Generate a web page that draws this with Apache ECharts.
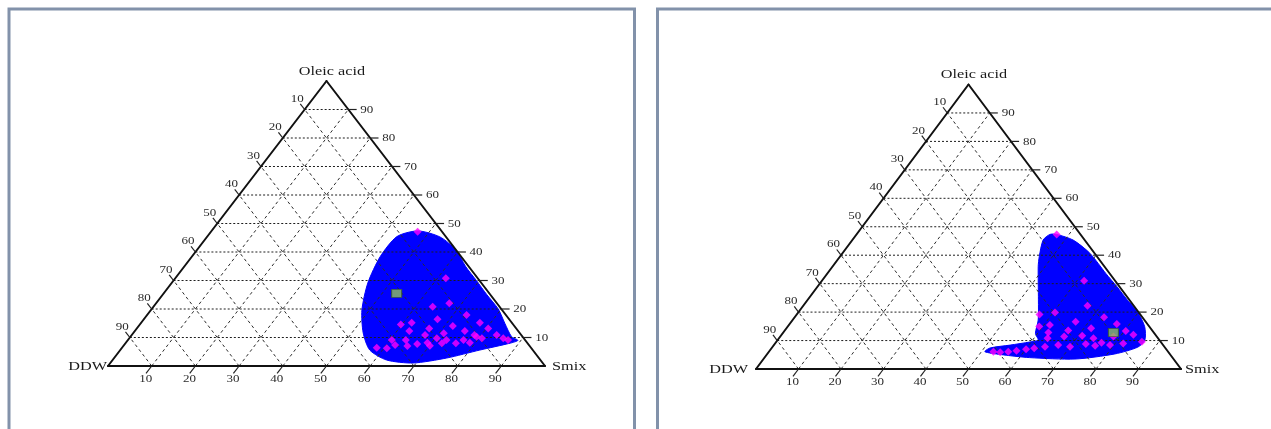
<!DOCTYPE html>
<html><head><meta charset="utf-8">
<script src="https://cdn.jsdelivr.net/npm/echarts@6/dist/echarts.min.js"></script>
<style>html,body{margin:0;padding:0;background:#fff}#c{width:1271px;height:429px}</style>
</head><body><div id="c"></div>
<script>
// ---- axis ticks & vertex labels ----
const TICKS = [10, 20, 30, 40, 50, 60, 70, 80, 90];
const LABEL_TOP = 'Oleic acid', LABEL_LEFT = 'DDW', LABEL_RIGHT = 'Smix';

// ---- left diagram: blue region boundary (Smix %, Oleic %; DDW = rest) ----
const blobL_smix  = [47.2, 53.3, 59.3, 64.3, 69.3, 74.2, 79.3, 83.3, 87.2, 89.3, 88.0, 82.3, 76.1, 69.3, 62.7, 57.1, 52.6, 48.3, 44.9, 43.1, 43.4];
const blobL_oleic = [47.4, 45.3, 40.7, 35.0, 30.0, 25.0, 20.0, 15.0, 10.3, 9.0, 8.0, 5.6, 2.8, 1.05, 2.1, 5.6, 11.6, 19.6, 29.1, 38.4, 45.4];
// left diagram: magenta points
const ptsL_smix  = [47.3,61.9,63.9,67.1,73.1,67.2,59.7,61.9,66.9,71.9,77.5,80.4,62.8,67.1,71.1,75.5,78.4,83.5,85.6,87.0,58.3,60.7,60.4,62.0,63.6,65.0,66.9,69.0,70.1,70.4,72.4,72.9,75.6,76.8,78.7,79.2,80.7];
const ptsL_oleic = [47.1,30.8,20.8,22.0,17.9,16.4,14.6,15.2,13.2,14.0,15.2,13.2,12.3,10.9,11.5,12.3,10.9,10.9,9.7,9.1,6.4,6.2,9.1,7.4,9.1,7.0,7.7,8.2,7.1,9.7,8.0,9.1,8.0,9.1,8.2,10.3,9.7];
const markL = [53.3, 25.5];

// ---- right diagram: blue region boundary ----
const blobR_smix  = [47.1, 52.0, 58.2, 65.5, 70.5, 75.2, 79.8, 84.0, 86.4, 86.0, 81.8, 73.3, 62.4, 54.9, 50.8, 51.4, 55.6, 59.7, 61.3, 59.5, 57.8, 54.3, 48.4, 46.9, 44.9, 45.5];
const blobR_oleic = [47.3, 45.3, 40.7, 33.6, 28.9, 24.3, 20.0, 14.9, 10.2, 7.7, 5.3, 3.5, 4.0, 5.1, 6.1, 7.4, 8.4, 9.5, 10.2, 12.5, 17.2, 24.3, 36.0, 39.5, 45.3, 47.3];
// right diagram: magenta points
const ptsR_smix  = [47.1,61.7,60.4,66.9,72.8,57.1,66.9,61.4,59.2,71.7,77.0,66.7,62.4,80.3,70.9,66.8,63.2,74.0,78.4,82.8,86.0,76.7,73.2,66.9,64.1,70.0,75.7,79.1,81.9,61.8,60.1,58.1,56.3,54.5,52.8];
const ptsR_oleic = [47.3,31.0,19.9,22.2,18.2,19.2,16.6,15.5,14.9,14.3,15.8,13.5,12.8,13.4,11.7,11.4,10.8,10.8,11.4,12.0,9.6,9.2,8.8,8.4,7.8,7.8,8.2,8.4,9.0,7.3,6.9,6.4,6.1,5.9,6.1];
const markR = [77.7, 12.8];

// ternary (Smix, Oleic) -> cartesian value space of the hidden axes
const tern = (s, o) => [s + o / 2, o];

const SERIF = '"Liberation Serif","DejaVu Serif",serif';
const SX = 1.3; // horizontal stretch of the original picture

const panels = [
  { grid: { left: 108, top: 81, width: 437, height: 285 }, bs: blobL_smix, bo: blobL_oleic, ps: ptsL_smix, po: ptsL_oleic, mark: markL, ddwGap: 1, smixGap: 7 },
  { grid: { left: 756, top: 84.5, width: 425, height: 284.5 }, bs: blobR_smix, bo: blobR_oleic, ps: ptsR_smix, po: ptsR_oleic, mark: markR, ddwGap: 8, smixGap: 4 }
];

const grids = [], xAxes = [], yAxes = [], series = [];

panels.forEach((P, i) => {
  grids.push(Object.assign({ containLabel: false }, P.grid));
  xAxes.push({ type: 'value', gridIndex: i, min: 0, max: 100, show: false });
  yAxes.push({ type: 'value', gridIndex: i, min: 0, max: 100, show: false });
  const ax = { xAxisIndex: i, yAxisIndex: i };

  // blue region
  series.push(Object.assign({
    type: 'custom', z: 1, silent: true,
    data: P.bs.map((s, k) => tern(s, P.bo[k])),
    renderItem: (params, api) => {
      if (params.dataIndex !== 0) return null;
      const pts = P.bs.map((s, k) => api.coord(tern(s, P.bo[k])));
      return { type: 'polygon', shape: { points: pts, smooth: 0.25 }, style: { fill: '#0000ff', stroke: '#0000ff', lineWidth: 1 } };
    }
  }, ax));

  // grid lines: kind 0 horizontal (const Oleic), 1 const Smix, 2 const DDW
  const gl = [];
  TICKS.forEach(t => {
    gl.push([0, t, 100 - t, t, 0]);
    gl.push([t, 0, t, 100 - t, 1]);
    gl.push([100 - t, 0, 0, 100 - t, 2]);
  });
  series.push(Object.assign({
    type: 'custom', z: 2, silent: true, data: gl,
    renderItem: (params, api) => {
      const a = api.coord(tern(api.value(0), api.value(1)));
      const b = api.coord(tern(api.value(2), api.value(3)));
      const k = api.value(4);
      return { type: 'line', shape: { x1: a[0], y1: a[1], x2: b[0], y2: b[1] },
        style: { stroke: k === 0 ? '#1e1e1e' : '#2c2c2c', lineWidth: 1, lineDash: k === 0 ? [2, 2] : [3, 3] } };
    }
  }, ax));

  // triangle edges
  series.push(Object.assign({
    type: 'custom', z: 3, silent: true,
    data: [[0, 0, 100, 0], [100, 0, 0, 100], [0, 100, 0, 0]],
    renderItem: (params, api) => {
      const a = api.coord(tern(api.value(0), api.value(1)));
      const b = api.coord(tern(api.value(2), api.value(3)));
      return { type: 'line', shape: { x1: a[0], y1: a[1], x2: b[0], y2: b[1] }, style: { stroke: '#111', lineWidth: 2, lineCap: 'round' } };
    }
  }, ax));

  // ticks and tick labels: axis 0 bottom (Smix), 1 right (Oleic), 2 left (DDW)
  const tk = [];
  TICKS.forEach(t => { tk.push([0, t]); tk.push([1, t]); tk.push([2, t]); });
  series.push(Object.assign({
    type: 'custom', z: 3, silent: true, data: tk,
    renderItem: (params, api) => {
      const axis = api.value(0), t = api.value(1);
      let a, b, lx, ly, align;
      if (axis === 0) {
        a = api.coord(tern(t, 0)); b = api.coord(tern(t, -2.6));
        lx = a[0] - 6; ly = a[1] + 13.5; align = 'center';
      } else if (axis === 1) {
        a = api.coord(tern(100 - t, t)); b = api.coord(tern(100 - t + 1.9, t));
        lx = a[0] + 12; ly = a[1] + 0.5; align = 'left';
      } else {
        a = api.coord(tern(0, 100 - t)); b = api.coord(tern(-2, 100 - t + 2));
        lx = a[0] - 7.5; ly = a[1] - 10.5; align = 'center';
      }
      return { type: 'group', children: [
        { type: 'line', shape: { x1: a[0], y1: a[1], x2: b[0], y2: b[1] }, style: { stroke: '#222', lineWidth: 1.2 } },
        { type: 'text', x: lx, y: ly, scaleX: SX, style: { text: String(t), font: '10px ' + SERIF, fill: '#2a2a2a', align: align, verticalAlign: 'middle' } }
      ] };
    }
  }, ax));

  // vertex labels
  series.push(Object.assign({
    type: 'custom', z: 3, silent: true, data: [[0], [1], [2]],
    renderItem: (params, api) => {
      const v = api.value(0);
      let p, x, y, text, align;
      if (v === 0) { p = api.coord(tern(0, 100)); x = p[0] + 5.5; y = p[1] - 9.5; text = LABEL_TOP; align = 'center'; }
      else if (v === 1) { p = api.coord(tern(0, 0)); x = p[0] - P.ddwGap; y = p[1] + 0.5; text = LABEL_LEFT; align = 'right'; }
      else { p = api.coord(tern(100, 0)); x = p[0] + P.smixGap; y = p[1] + 1; text = LABEL_RIGHT; align = 'left'; }
      return { type: 'text', x: x, y: y, scaleX: SX, style: { text: text, font: '12.5px ' + SERIF, fill: '#1a1a1a', align: align, verticalAlign: 'middle' } };
    }
  }, ax));

  // magenta composition points
  series.push(Object.assign({
    type: 'scatter', z: 4, silent: true, clip: false,
    symbol: 'diamond', symbolSize: 8,
    itemStyle: { color: '#ff00ff' },
    data: P.ps.map((s, k) => tern(s, P.po[k]))
  }, ax));

  // green marker
  series.push(Object.assign({
    type: 'scatter', z: 5, silent: true, clip: false,
    symbol: 'rect', symbolSize: [10, 8],
    itemStyle: { color: '#8fbf5a', borderColor: '#3d5e2c', borderWidth: 1 },
    data: [tern(P.mark[0], P.mark[1])]
  }, ax));
});

const chart = echarts.init(document.getElementById('c'), null, { renderer: 'canvas' });
chart.setOption({
  backgroundColor: '#ffffff',
  animation: false,
  grid: grids, xAxis: xAxes, yAxis: yAxes,
  graphic: [
    { type: 'rect', shape: { x: 9, y: 9, width: 625.5, height: 520 }, style: { fill: 'none', stroke: '#8292aa', lineWidth: 3 }, silent: true },
    { type: 'rect', shape: { x: 657.5, y: 9, width: 700, height: 520 }, style: { fill: 'none', stroke: '#8292aa', lineWidth: 3 }, silent: true }
  ],
  series: series
});
</script>
</body></html>
